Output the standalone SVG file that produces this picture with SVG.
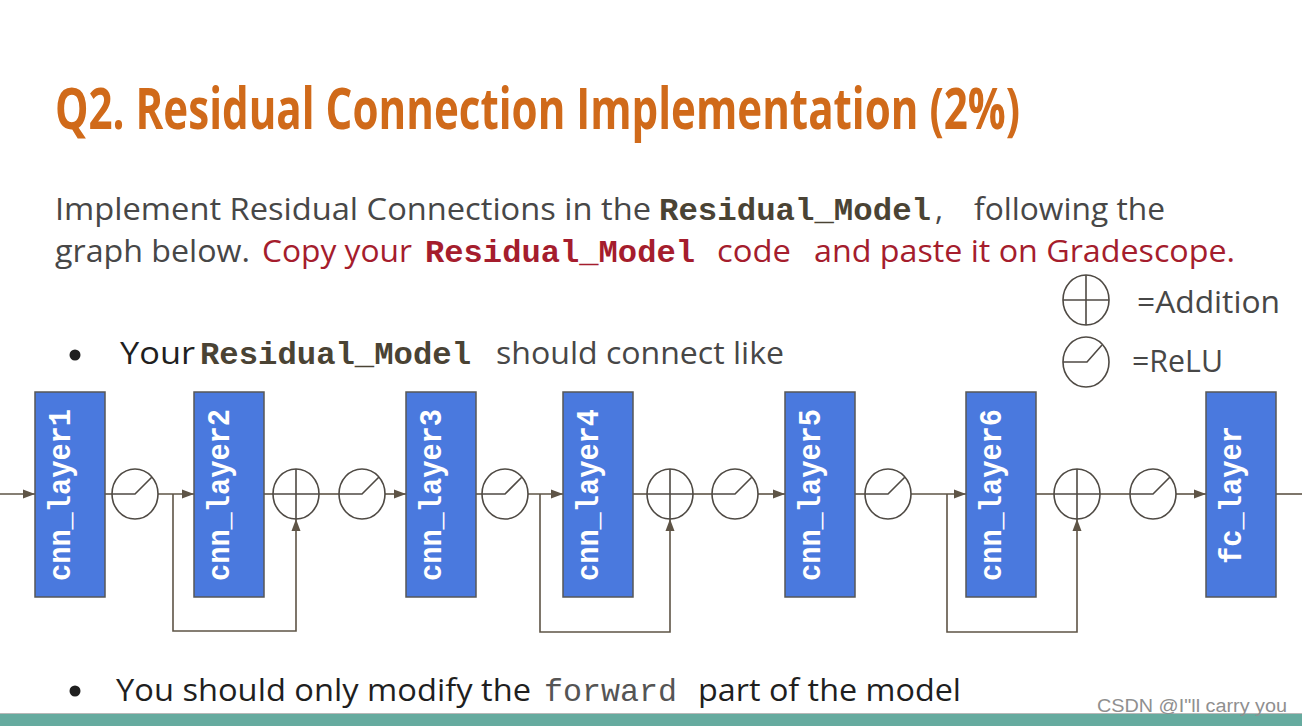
<svg xmlns="http://www.w3.org/2000/svg" width="1302" height="726" viewBox="0 0 1302 726">
<defs>
<style>
.blk{fill:#4a79de;stroke:#575757;stroke-width:1.5}
.blt{font-family:"Liberation Mono","Courier New",monospace;font-size:32px;font-weight:bold;fill:#ffffff;text-anchor:middle}
.sym{fill:none;stroke:#4f4a44;stroke-width:1.6}
.con{fill:none;stroke:#5e5446;stroke-width:1.6}
.body{font-family:"Open Sans","Noto Sans",sans-serif;font-size:31px}
.mono{font-family:"Liberation Mono","Courier New",monospace;font-size:32px;font-weight:bold}
.gray{fill:#474747}
.dark{fill:#1f1f1f}
.red{fill:#a51d2d}
.olive{fill:#4a4334}
</style>
<marker id="ah" markerWidth="12" markerHeight="10" refX="12" refY="5" orient="auto" markerUnits="userSpaceOnUse">
<path d="M0,0.5 L12,5 L0,9.5 z" fill="#5e5446"/>
</marker>
</defs>
<rect x="0" y="0" width="1302" height="726" fill="#ffffff"/>

<g id="title">
<text transform="translate(55,129) scale(1,1.425)" x="0" y="0" font-family="Open Sans,Noto Sans,sans-serif" font-size="40" font-weight="bold" fill="#d06a1a" textLength="965" lengthAdjust="spacingAndGlyphs">Q2. Residual Connection Implementation (2%)</text>
</g>

<g id="description">
<text class="body gray" x="55" y="220" textLength="596" lengthAdjust="spacingAndGlyphs">Implement Residual Connections in the</text>
<text class="mono olive" x="659" y="220" textLength="272" lengthAdjust="spacingAndGlyphs">Residual_Model</text>
<text class="body gray" x="935" y="220">,</text>
<text class="body gray" x="974" y="220" textLength="191" lengthAdjust="spacingAndGlyphs">following the</text>
<text class="body gray" x="55" y="262" textLength="195" lengthAdjust="spacingAndGlyphs">graph below.</text>
<text class="body red" x="262" y="262" textLength="150" lengthAdjust="spacingAndGlyphs">Copy your</text>
<text class="mono red" x="425" y="262" textLength="270" lengthAdjust="spacingAndGlyphs">Residual_Model</text>
<text class="body red" x="717" y="262" textLength="74" lengthAdjust="spacingAndGlyphs">code</text>
<text class="body red" x="814" y="262" textLength="421" lengthAdjust="spacingAndGlyphs">and paste it on Gradescope.</text>
</g>

<g id="bullet1">
<circle cx="75" cy="355" r="5.5" fill="#1f1f1f"/>
<text class="body dark" x="120" y="364" textLength="75" lengthAdjust="spacingAndGlyphs">Your</text>
<text class="mono olive" x="200" y="364" textLength="271" lengthAdjust="spacingAndGlyphs">Residual_Model</text>
<text class="body gray" x="496" y="364" textLength="288" lengthAdjust="spacingAndGlyphs">should connect like</text>
</g>

<g id="legend">
<ellipse class="sym" cx="1086" cy="300" rx="23" ry="25"/>
<path class="sym" d="M1063,300 H1109 M1086,275 V325"/>
<text class="body gray" x="1137" y="313" textLength="143" lengthAdjust="spacingAndGlyphs">=Addition</text>
<ellipse class="sym" cx="1086" cy="362" rx="23" ry="25"/>
<path class="sym" d="M1063,362 H1087 L1102,345"/>
<text class="body gray" x="1132" y="372" textLength="91" lengthAdjust="spacingAndGlyphs">=ReLU</text>
</g>

<g id="connectors">
<path class="con" d="M0,494 H35" marker-end="url(#ah)"/>
<path class="con" d="M105,494 H112"/>
<path class="con" d="M158,494 H194" marker-end="url(#ah)"/>
<path class="con" d="M173,494 V631 H296 V519" marker-end="url(#ah)"/>
<path class="con" d="M264,494 H273"/>
<path class="con" d="M319,494 H339"/>
<path class="con" d="M385,494 H406" marker-end="url(#ah)"/>
<path class="con" d="M476,494 H482"/>
<path class="con" d="M528,494 H563" marker-end="url(#ah)"/>
<path class="con" d="M540,494 V632 H670 V519" marker-end="url(#ah)"/>
<path class="con" d="M633,494 H647"/>
<path class="con" d="M693,494 H712"/>
<path class="con" d="M758,494 H785" marker-end="url(#ah)"/>
<path class="con" d="M855,494 H865"/>
<path class="con" d="M911,494 H966" marker-end="url(#ah)"/>
<path class="con" d="M947,494 V632 H1077 V519" marker-end="url(#ah)"/>
<path class="con" d="M1036,494 H1054"/>
<path class="con" d="M1100,494 H1130"/>
<path class="con" d="M1176,494 H1206" marker-end="url(#ah)"/>
<path class="con" d="M1276,494 H1302"/>
</g>

<g id="cnn_layer1"><rect class="blk" x="35" y="392" width="70" height="205"/><text class="blt" transform="translate(70,495) rotate(-90)" textLength="172" lengthAdjust="spacingAndGlyphs">cnn_layer1</text></g>
<g id="relu1"><ellipse class="sym" cx="135" cy="494" rx="23" ry="25"/><path class="sym" d="M112,494 H135 L152,477"/></g>
<g id="cnn_layer2"><rect class="blk" x="194" y="392" width="70" height="205"/><text class="blt" transform="translate(229,495) rotate(-90)" textLength="172" lengthAdjust="spacingAndGlyphs">cnn_layer2</text></g>
<g id="add1"><ellipse class="sym" cx="296" cy="494" rx="23" ry="25"/><path class="sym" d="M273,494 H319 M296,469 V519"/></g>
<g id="relu2"><ellipse class="sym" cx="362" cy="494" rx="23" ry="25"/><path class="sym" d="M339,494 H362 L379,477"/></g>
<g id="cnn_layer3"><rect class="blk" x="406" y="392" width="70" height="205"/><text class="blt" transform="translate(441,495) rotate(-90)" textLength="172" lengthAdjust="spacingAndGlyphs">cnn_layer3</text></g>
<g id="relu3"><ellipse class="sym" cx="505" cy="494" rx="23" ry="25"/><path class="sym" d="M482,494 H505 L522,477"/></g>
<g id="cnn_layer4"><rect class="blk" x="563" y="392" width="70" height="205"/><text class="blt" transform="translate(598,495) rotate(-90)" textLength="172" lengthAdjust="spacingAndGlyphs">cnn_layer4</text></g>
<g id="add2"><ellipse class="sym" cx="670" cy="494" rx="23" ry="25"/><path class="sym" d="M647,494 H693 M670,469 V519"/></g>
<g id="relu4"><ellipse class="sym" cx="735" cy="494" rx="23" ry="25"/><path class="sym" d="M712,494 H735 L752,477"/></g>
<g id="cnn_layer5"><rect class="blk" x="785" y="392" width="70" height="205"/><text class="blt" transform="translate(820,495) rotate(-90)" textLength="172" lengthAdjust="spacingAndGlyphs">cnn_layer5</text></g>
<g id="relu5"><ellipse class="sym" cx="888" cy="494" rx="23" ry="25"/><path class="sym" d="M865,494 H888 L905,477"/></g>
<g id="cnn_layer6"><rect class="blk" x="966" y="392" width="70" height="205"/><text class="blt" transform="translate(1001,495) rotate(-90)" textLength="172" lengthAdjust="spacingAndGlyphs">cnn_layer6</text></g>
<g id="add3"><ellipse class="sym" cx="1077" cy="494" rx="23" ry="25"/><path class="sym" d="M1054,494 H1100 M1077,469 V519"/></g>
<g id="relu6"><ellipse class="sym" cx="1153" cy="494" rx="23" ry="25"/><path class="sym" d="M1130,494 H1153 L1170,477"/></g>
<g id="fc_layer"><rect class="blk" x="1206" y="392" width="70" height="205"/><text class="blt" transform="translate(1241,495) rotate(-90)" textLength="138" lengthAdjust="spacingAndGlyphs">fc_layer</text></g>

<g id="bullet2">
<circle cx="75" cy="691" r="5.5" fill="#1f1f1f"/>
<text class="body dark" x="116" y="701" textLength="415" lengthAdjust="spacingAndGlyphs">You should only modify the</text>
<text x="544" y="701" font-family="Liberation Mono,Courier New,monospace" font-size="32" fill="#555555" textLength="133" lengthAdjust="spacingAndGlyphs">forward</text>
<text class="body dark" x="698" y="701" textLength="263" lengthAdjust="spacingAndGlyphs">part of the model</text>
</g>

<g id="footer">
<rect x="0" y="713" width="1302" height="1" fill="#b8b8b8"/>
<rect x="0" y="714" width="1302" height="12" fill="#66ab9f"/>
<text x="1097" y="712" font-family="Liberation Sans,Arial,sans-serif" font-size="18" fill="#8f8f8f" textLength="190" lengthAdjust="spacingAndGlyphs">CSDN @I"ll carry you</text>
</g>
</svg>
